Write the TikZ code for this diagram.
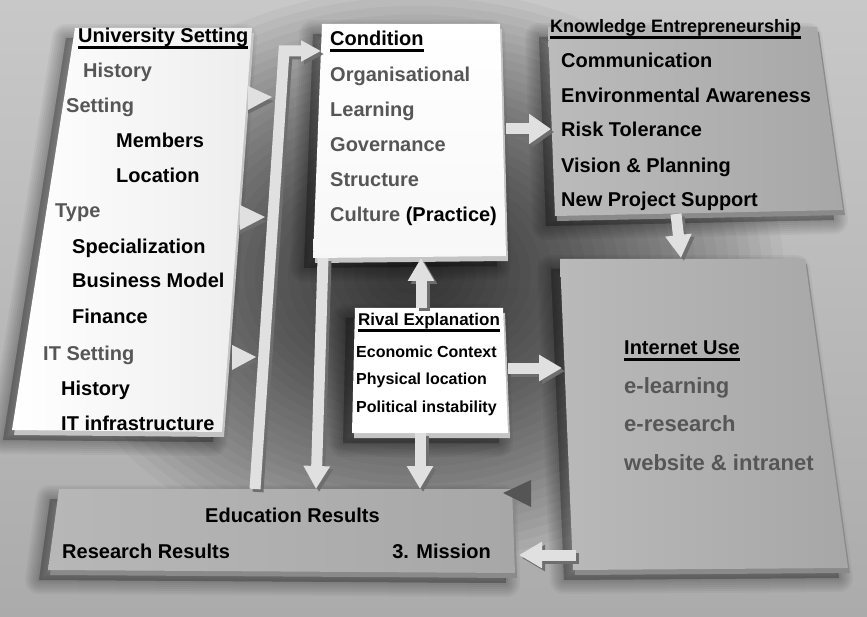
\documentclass[tikz,border=0pt]{standalone}
\usepackage{fontspec}
\setmainfont{Liberation Sans}
\usetikzlibrary{arrows.meta}
\definecolor{bgTop}{HTML}{C8C8C8}
\definecolor{bgBot}{HTML}{ABABAB}
\definecolor{txtgray}{HTML}{565656}
\definecolor{arrowc}{HTML}{E0E0E0}
\definecolor{arrowsh}{HTML}{6E6E6E}
\definecolor{panelA}{HTML}{BBBBBB}
\definecolor{panelB}{HTML}{A7A7A7}
\definecolor{edgeG}{HTML}{8A8A8A}
\definecolor{edgeW}{HTML}{C4C4C4}
\definecolor{darktri}{HTML}{555555}
\newcommand\myul[1]{\setbox0\hbox{#1}\rlap{\rule[-5.6pt]{\wd0}{2.2pt}}\box0}
\newcommand\softshadow[1]{%
  \begin{scope}[transform canvas={xshift=-9pt,yshift=-10pt}]
    \foreach \w in {28,24,20,16,12,8,4}{\filldraw[black,opacity=0.04,line width=\w pt,line join=round] #1;}
  \end{scope}}
\newcommand\thick[2]{%
  \begin{scope}[transform canvas={xshift=2pt,yshift=-5pt}]
    \fill[#1] #2;
  \end{scope}}
\tikzset{
  txt/.style={anchor=base west, inner sep=0pt, text=black, font=\bfseries\fontsize{20}{24}\selectfont},
  gtxt/.style={txt, text=txtgray},
  fat/.style={draw=arrowc, line width=11pt, line join=miter, -{Triangle[width=25pt,length=23pt]}},
  fatsh/.style={fat, draw=arrowsh, transform canvas={xshift=3pt,yshift=-3pt}},
  tri/.style={fill=arrowc},
}
\begin{document}
\begin{tikzpicture}[x=1pt,y=-1pt]
\useasboundingbox (0,0) rectangle (867,617);
\clip (0,0) rectangle (867,617);
% background
\shade[top color=bgTop, bottom color=bgBot] (0,0) rectangle (867,617);
\foreach \i in {1,...,32}{
  \fill[black, opacity=0.032] (415,275) ellipse [x radius={(380-11*\i)*1pt}, y radius={(295-8.6*\i)*1pt}];
}

% soft shadows
\softshadow{(75,28)--(252,28)--(222,432)--(12,430)--cycle}
\softshadow{(322,24)--(500,24)--(506,256)--(313,258)--cycle}
\softshadow{(548,27)--(817,27)--(843,210)--(555,216)--cycle}
\softshadow{(355,308)--(503,308)--(508,433)--(352,433)--cycle}
\softshadow{(560,259)--(805,259)--(848,568)--(573,570)--cycle}
\softshadow{(59,489)--(512,489)--(515,573)--(48,570)--cycle}

% side thickness
\thick{edgeW}{(75,28)--(252,28)--(222,432)--(12,430)--cycle}
\thick{edgeW}{(322,24)--(500,24)--(506,256)--(313,258)--cycle}
\thick{edgeG}{(548,27)--(817,27)--(843,210)--(555,216)--cycle}
\thick{edgeW}{(355,308)--(503,308)--(508,433)--(352,433)--cycle}
\thick{edgeG}{(560,259)--(805,259)--(848,568)--(573,570)--cycle}
\thick{edgeG}{(59,489)--(512,489)--(515,573)--(48,570)--cycle}

% small triangles on University panel
\fill[arrowsh] (248,94)--(274,101)--(248,114)--cycle;
\fill[tri] (248,86)--(272,97)--(248,110)--cycle;
\fill[arrowsh] (240,214)--(267,221)--(240,234)--cycle;
\fill[tri] (240,205)--(265,217)--(240,230)--cycle;
\fill[arrowsh] (232,354)--(258,361)--(232,374)--cycle;
\fill[tri] (232,345)--(256,357)--(232,370)--cycle;

% panels
\shade[left color=white, right color=black!7] (75,28)--(252,28)--(222,432)--(12,430)--cycle;
\shade[top color=white, bottom color=black!3] (322,24)--(500,24)--(506,256)--(313,258)--cycle;
\shade[left color=panelA, right color=panelB] (548,27)--(817,27)--(843,210)--(555,216)--cycle;
\fill[white] (355,308)--(503,308)--(508,433)--(352,433)--cycle;
\shade[left color=panelA!90!panelB, right color=panelB] (560,259)--(805,259)--(848,568)--(573,570)--cycle;
\shade[left color=panelA!80!panelB, right color=panelB] (59,489)--(512,489)--(515,573)--(48,570)--cycle;

% dark triangle
\fill[darktri] (503,493)--(531,480)--(531,507)--cycle;

% connector coordinates
\coordinate (barS) at (255,489);
\coordinate (barB) at (284,51);
\coordinate (condW) at (321,51);
\coordinate (condE) at (506,129);
\coordinate (knowW) at (551,129);
\coordinate (knowS) at (676,214);
\coordinate (intN) at (681,258);
\coordinate (rivN) at (421,308);
\coordinate (condS) at (421,258);
\coordinate (rivE) at (508,368);
\coordinate (intW) at (562,368);
\coordinate (rivS) at (420,433);
\coordinate (eduN2) at (420,489);
\coordinate (condSW) at (323,258);
\coordinate (eduN1) at (316,489);
\coordinate (intSW) at (576,555);
\coordinate (eduE) at (519,555);

% arrow shadows
\draw[fatsh, -{Triangle[width=20pt,length=20pt]}] (barS) -- (barB) -- (condW);
\draw[fatsh, -{Triangle[width=29pt,length=22pt]}] (condE) -- (knowW);
\draw[fatsh] (knowS) -- (intN);
\draw[fatsh] (rivN) -- (condS);
\draw[fatsh] (rivE) -- (intW);
\draw[fatsh] (rivS) -- (eduN2);
\draw[fatsh] (condSW) -- (eduN1);
\draw[fatsh] (intSW) -- (eduE);
% arrows
\draw[fat, -{Triangle[width=20pt,length=20pt]}] (barS) -- (barB) -- (condW);
\draw[fat, -{Triangle[width=29pt,length=22pt]}] (condE) -- (knowW);
\draw[fat] (knowS) -- (intN);
\draw[fat] (rivN) -- (condS);
\draw[fat] (rivE) -- (intW);
\draw[fat] (rivS) -- (eduN2);
\draw[fat] (condSW) -- (eduN1);
\draw[fat] (intSW) -- (eduE);

% University Setting
\node[txt] (us0) at (78,43) {\myul{University Setting}};
\node[gtxt] (us1) at (83,78) {History};
\node[gtxt] (us2) at (66,113) {Setting};
\node[txt] (us3) at (116,148) {Members};
\node[txt] (us4) at (116,183) {Location};
\node[gtxt] (us5) at (55,218) {Type};
\node[txt] (us6) at (72,254) {Specialization};
\node[txt] (us7) at (72,288) {Business Model};
\node[txt] (us8) at (72,324) {Finance};
\node[gtxt] (us9) at (43,360) {IT Setting};
\node[txt] (us10) at (61,395) {History};
\node[txt] (us11) at (61,430) {IT infrastructure};

% Condition
\node[txt] (cd0) at (330,46) {\myul{Condition}};
\node[gtxt] (cd1) at (330,82) {Organisational};
\node[gtxt] (cd2) at (330,117) {Learning};
\node[gtxt] (cd3) at (330,152) {Governance};
\node[gtxt] (cd4) at (330,187) {Structure};
\node[txt] (cd5) at (330,222) {\textcolor{txtgray}{Culture} (Practice)};

% Knowledge Entrepreneurship
\node[txt, font=\bfseries\fontsize{18}{22}\selectfont] (ke0) at (550,33) {\myul{Knowledge Entrepreneurship}};
\node[txt] (ke1) at (561,68) {Communication};
\node[txt] (ke2) at (561,103) {Environmental Awareness};
\node[txt] (ke3) at (561,137) {Risk Tolerance};
\node[txt] (ke4) at (561,173) {Vision \& Planning};
\node[txt] (ke5) at (561,207) {New Project Support};

% Rival Explanation
\node[txt, font=\bfseries\fontsize{17}{20}\selectfont] (rv0) at (358,326) {\myul{Rival Explanation}};
\node[txt, font=\bfseries\fontsize{16}{19}\selectfont] (rv1) at (356,357) {Economic Context};
\node[txt, font=\bfseries\fontsize{16}{19}\selectfont] (rv2) at (356,384) {Physical location};
\node[txt, font=\bfseries\fontsize{16}{19}\selectfont] (rv3) at (356,412) {Political instability};

% Internet Use
\node[txt] (iu0) at (624,355) {\myul{Internet Use}};
\node[gtxt, font=\bfseries\fontsize{22}{26}\selectfont] (iu1) at (624,393) {e-learning};
\node[gtxt, font=\bfseries\fontsize{22}{26}\selectfont] (iu2) at (624,431) {e-research};
\node[gtxt, font=\bfseries\fontsize{22}{26}\selectfont] (iu3) at (624,470) {website \& intranet};

% Results
\node[txt] (ed0) at (205,522) {Education Results};
\node[txt] (ed1) at (62,558) {Research Results};
\node[txt, anchor=base east] (ed2) at (491,558) {3. Mission};
\end{tikzpicture}
\end{document}
